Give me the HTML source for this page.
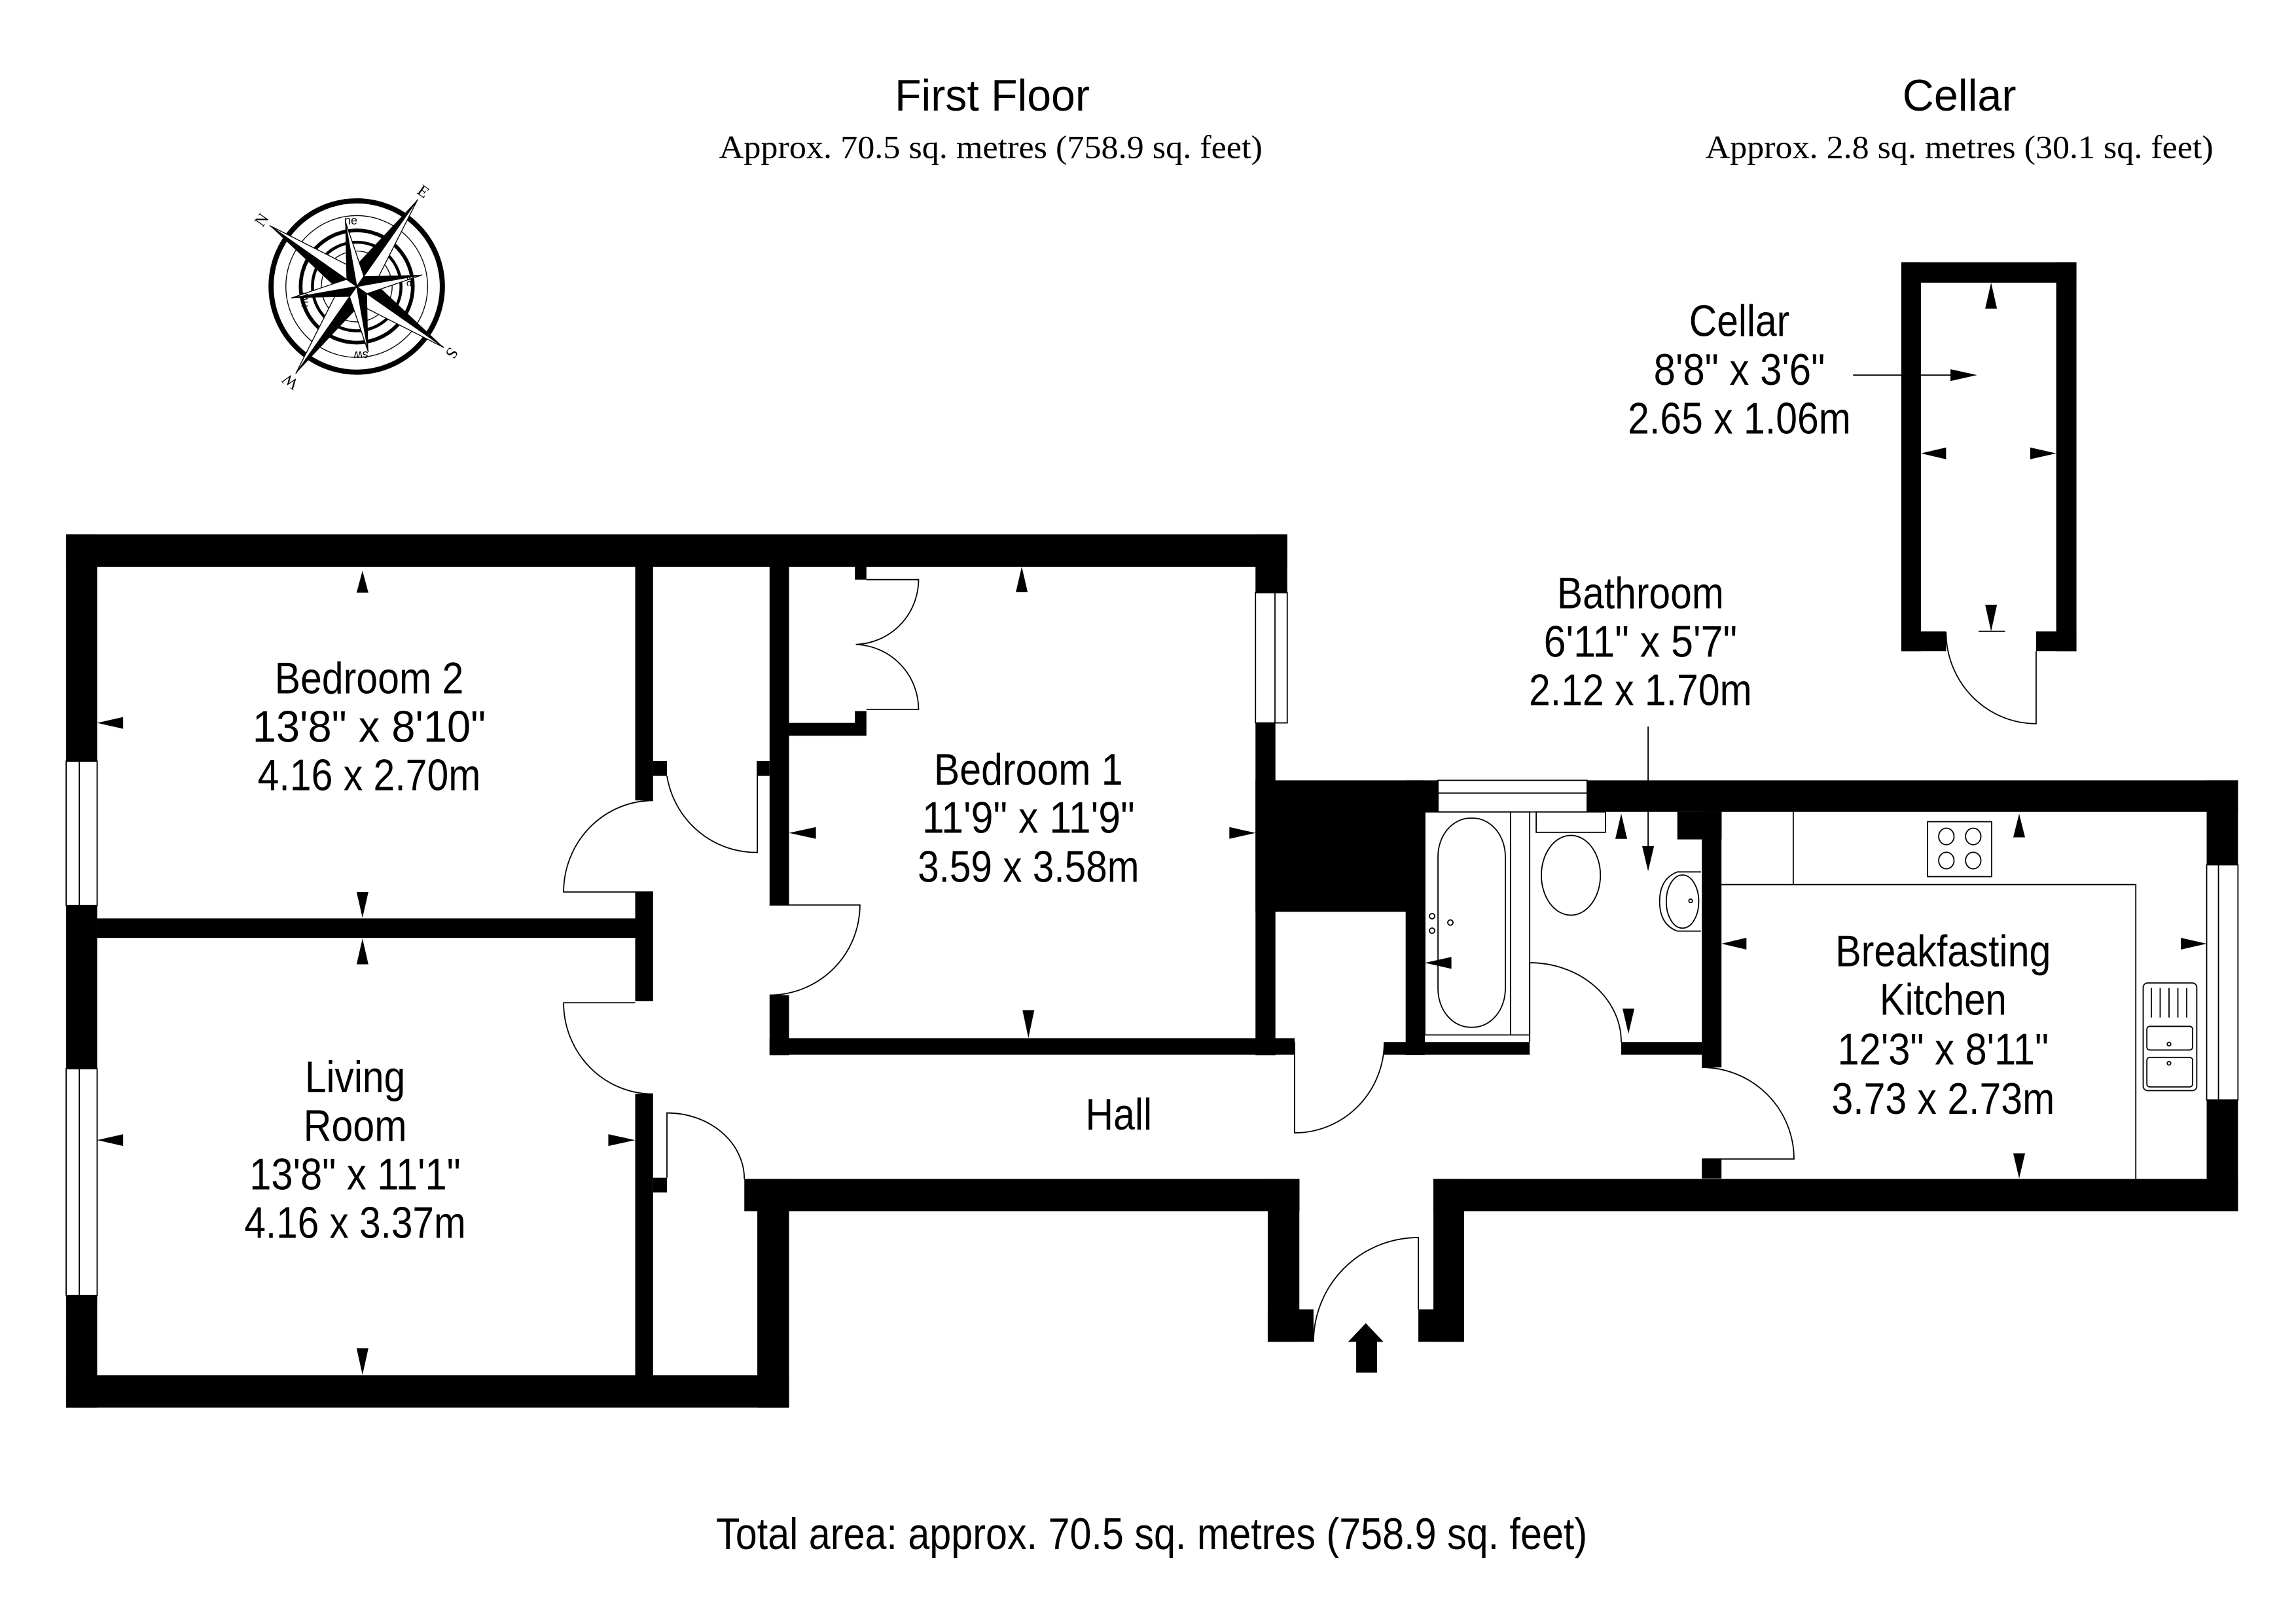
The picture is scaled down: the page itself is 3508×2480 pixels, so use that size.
<!DOCTYPE html>
<html><head><meta charset="utf-8"><style>
html,body{margin:0;padding:0;background:#fff}
svg{display:block}
.t{font-family:"Liberation Sans",sans-serif;font-size:30px;fill:#000;text-anchor:middle}
.s{font-family:"Liberation Serif",serif;font-size:22px;fill:#000;text-anchor:middle}
.l{fill:none;stroke:#000;stroke-width:0.8}
</style></head><body>
<svg width="3508" height="2480" viewBox="0 0 1555 1099" preserveAspectRatio="none" xmlns="http://www.w3.org/2000/svg">
<rect width="1555" height="1099" fill="#fff"/>
<!-- titles -->
<text class="t" x="672" y="75" font-size="31" textLength="132" lengthAdjust="spacingAndGlyphs">First Floor</text>
<text class="s" x="671" y="107" textLength="368" lengthAdjust="spacingAndGlyphs">Approx. 70.5 sq. metres (758.9 sq. feet)</text>
<text class="t" x="1327" y="75" font-size="31" textLength="77" lengthAdjust="spacingAndGlyphs">Cellar</text>
<text class="s" x="1327" y="107" textLength="344" lengthAdjust="spacingAndGlyphs">Approx. 2.8 sq. metres (30.1 sq. feet)</text>
<text class="t" x="780" y="1049" font-size="29" textLength="590" lengthAdjust="spacingAndGlyphs">Total area: approx. 70.5 sq. metres (758.9 sq. feet)</text>

<!-- compass -->
<g transform="translate(241.6,194)">
<circle r="58" fill="none" stroke="#000" stroke-width="3.5"/>
<circle r="48" fill="none" stroke="#000" stroke-width="0.6"/>
<circle r="38" fill="none" stroke="#000" stroke-width="2.5"/>
<circle r="30" fill="none" stroke="#000" stroke-width="2"/>
<circle r="24" fill="none" stroke="#000" stroke-width="0.6"/>
<g transform="rotate(-55)">
<g id="pt"><polygon points="0,0 0,-72 -9,-9" fill="#000"/><polygon points="0,0 0,-72 9,-9" fill="#fff" stroke="#000" stroke-width="0.6"/></g>
<use href="#pt" transform="rotate(90)"/><use href="#pt" transform="rotate(180)"/><use href="#pt" transform="rotate(270)"/>
<g id="sp"><polygon points="0,0 0,-45 -6,-6" fill="#000" transform="rotate(45)"/><polygon points="0,0 0,-45 6,-6" fill="#fff" stroke="#000" stroke-width="0.6" transform="rotate(45)"/></g>
<use href="#sp" transform="rotate(90)"/><use href="#sp" transform="rotate(180)"/><use href="#sp" transform="rotate(270)"/>
<text x="0" y="-75" font-family="Liberation Serif,serif" font-size="11" text-anchor="middle">N</text>
<text x="0" y="-75" font-family="Liberation Serif,serif" font-size="11" text-anchor="middle" transform="rotate(90)">E</text>
<text x="0" y="-75" font-family="Liberation Serif,serif" font-size="11" text-anchor="middle" transform="rotate(180)">S</text>
<text x="0" y="-75" font-family="Liberation Serif,serif" font-size="11" text-anchor="middle" transform="rotate(270)">W</text>
</g>
<text x="-4" y="-42" font-family="Liberation Sans,sans-serif" font-size="8" text-anchor="middle">ne</text>
<text x="36" y="-2" font-family="Liberation Sans,sans-serif" font-size="8" text-anchor="middle" transform="rotate(90 36 -4)">se</text>
<text x="3" y="50" font-family="Liberation Sans,sans-serif" font-size="8" text-anchor="middle" transform="rotate(180 3 47)">sw</text>
<text x="-36" y="12" font-family="Liberation Sans,sans-serif" font-size="8" text-anchor="middle" transform="rotate(270 -36 9)">nw</text>
</g>

<!-- ===== main plan walls ===== -->
<g fill="#000">
<rect x="44.8" y="361.8" width="827" height="22"/>
<rect x="44.8" y="361.8" width="21" height="591.3"/>
<rect x="44.8" y="931.2" width="489.6" height="21.9"/>
<rect x="430.2" y="383" width="12.1" height="159"/>
<rect x="430.2" y="604" width="12.1" height="74"/>
<rect x="430.2" y="740.8" width="12.1" height="191"/>
<rect x="442.3" y="515.4" width="9.4" height="10"/>
<rect x="442.3" y="797.5" width="9.4" height="10"/>
<rect x="65.8" y="621.9" width="365" height="13.2"/>
<rect x="512.9" y="515.4" width="8.3" height="10"/>
<rect x="521.2" y="383" width="13.2" height="229.8"/>
<rect x="521.2" y="673.8" width="13.2" height="40.7"/>
<rect x="534.4" y="489.5" width="52.4" height="8.7"/>
<rect x="579" y="383" width="7.8" height="9.5"/>
<rect x="579" y="481.5" width="7.8" height="9"/>
<rect x="521.2" y="703" width="355.6" height="11.2"/>
<rect x="850.3" y="361.8" width="21.5" height="39.5"/>
<rect x="850.3" y="489.5" width="13.5" height="225"/>
<rect x="850.3" y="528.4" width="114" height="89"/>
<rect x="952" y="528.4" width="13" height="186"/>
<rect x="964" y="528.4" width="551.7" height="21.4"/>
<rect x="1494.5" y="528.4" width="21.2" height="291.6"/>
<rect x="937.5" y="705.6" width="98.5" height="8.6"/>
<rect x="1098" y="705.6" width="54.6" height="8.6"/>
<rect x="1136" y="549.8" width="30" height="18.6"/>
<rect x="1152.6" y="549.8" width="13.3" height="173"/>
<rect x="1152.6" y="784.8" width="13.3" height="13.2"/>
<rect x="504.1" y="798.3" width="376" height="21.9"/>
<rect x="512.9" y="798.3" width="21.5" height="154.8"/>
<rect x="858.6" y="798.3" width="21.4" height="110.3"/>
<rect x="858.6" y="886.6" width="31" height="22"/>
<rect x="970.8" y="798.3" width="544.9" height="21.9"/>
<rect x="970.8" y="798.3" width="20.8" height="110.3"/>
<rect x="960.6" y="886.6" width="31" height="22"/>
</g>
<!-- windows -->
<g fill="#fff" stroke="#000" stroke-width="0.8">
<rect x="44.8" y="515.4" width="21" height="97.8"/>
<rect x="44.8" y="723.7" width="21" height="153.6"/>
<rect x="850.3" y="401.3" width="21.5" height="88.2"/>
<rect x="973.9" y="528.4" width="101" height="21.4"/>
<rect x="1494.5" y="585.6" width="21.2" height="159.2"/>
</g>
<g class="l">
<line x1="53.7" y1="515.4" x2="53.7" y2="613.2"/>
<line x1="53.7" y1="723.7" x2="53.7" y2="877.3"/>
<line x1="863.5" y1="401.3" x2="863.5" y2="489.5"/>
<line x1="973.9" y1="537" x2="1074.9" y2="537"/>
<line x1="1502.5" y1="585.6" x2="1502.5" y2="744.8"/>
</g>

<!-- doors -->
<g class="l">
<path d="M442.3,604 H381.7 A60.6,62 0 0 1 442.3,542.1"/>
<path d="M512.9,515.4 V577.2 A61.2,61.8 0 0 1 451.7,525.4"/>
<path d="M521.2,612.8 H582.4 A61.2,61 0 0 1 521.2,673.8"/>
<path d="M430.2,679 H381.7 A60.6,61.8 0 0 0 442.3,740.8"/>
<path d="M451.7,797.5 V753.6 A52.4,44.7 0 0 1 504.1,798.3"/>
<path d="M586.8,392.5 H622.1 A44,44 0 0 1 579.6,436.4 A44,44 0 0 1 622.1,480.3 H586.8"/>
<path d="M876.8,705.6 V767.1 A60.7,61.5 0 0 0 937.5,705.6"/>
<path d="M1036,705.6 V651.9 A62,53.7 0 0 1 1098,705.6"/>
<path d="M1152.6,784.8 H1215 A62.4,62 0 0 0 1152.6,722.8"/>
<path d="M960.6,886.6 V838 A71,70.6 0 0 0 889.6,908.6"/>
</g>
<!-- entry arrow -->
<polygon points="925,896 913,908.6 918.5,908.6 918.5,929.5 932.6,929.5 932.6,908.6 937,908.6" fill="#000"/>

<!-- bathroom fittings -->
<g class="l">
<rect x="965" y="549.8" width="71" height="151"/>
<line x1="1023" y1="549.8" x2="1023" y2="700.8"/>
<rect x="973.9" y="554" width="45.6" height="141.6" rx="22" ry="26"/>
<circle cx="969.9" cy="620.4" r="1.8"/><circle cx="969.9" cy="630.2" r="1.8"/><circle cx="982.3" cy="624.7" r="1.8"/>
<rect x="1040.4" y="549.8" width="46.9" height="13.8"/>
<ellipse cx="1063.9" cy="592.7" rx="20" ry="27"/>
<path d="M1152,590.4 H1136 Q1124,595 1124,610.5 Q1124,626 1136,630.5 H1152"/>
<ellipse cx="1139.5" cy="610.5" rx="11" ry="18"/>
<circle cx="1145" cy="610" r="1.2"/>
<!-- kitchen -->
<line x1="1214.5" y1="549.8" x2="1214.5" y2="599"/>
<polyline points="1165.9,599 1446.5,599 1446.5,798.3"/>
<rect x="1305.5" y="556.4" width="43.4" height="37.2"/>
<ellipse cx="1318.2" cy="566.4" rx="5.2" ry="5.6"/><ellipse cx="1336.4" cy="566.4" rx="5.2" ry="5.6"/>
<ellipse cx="1318.2" cy="582.7" rx="5.2" ry="5.6"/><ellipse cx="1336.4" cy="582.7" rx="5.2" ry="5.6"/>
<rect x="1451.5" y="665.6" width="36.3" height="72.9" rx="3"/>
<rect x="1454" y="695" width="31" height="16" rx="2"/>
<rect x="1454" y="716" width="31" height="20" rx="2"/>
<line x1="1457" y1="669" x2="1457" y2="689"/><line x1="1463" y1="669" x2="1463" y2="689"/><line x1="1469" y1="669" x2="1469" y2="689"/><line x1="1475" y1="669" x2="1475" y2="689"/><line x1="1481" y1="669" x2="1481" y2="689"/>
<circle cx="1469" cy="707" r="1.2"/><circle cx="1469" cy="720" r="1.2"/>
<!-- leaders -->
<line x1="1116.2" y1="492" x2="1116.2" y2="575"/>
<line x1="1255" y1="254" x2="1325" y2="254"/>
<line x1="1340" y1="427.5" x2="1358" y2="427.5"/>
</g>

<!-- dimension arrows -->
<g fill="#000">
<polygon points="245.5,386.5 241.5,401.3 249.5,401.3"/>
<polygon points="245.5,621.5 241.5,604 249.5,604"/>
<polygon points="65.8,489.5 83.4,485.5 83.4,493.5"/>
<polygon points="245.5,635.5 241.5,653 249.5,653"/>
<polygon points="245.5,931 241.5,913 249.5,913"/>
<polygon points="65.8,772 83.4,768 83.4,776"/>
<polygon points="430.2,772 412,768 412,776"/>
<polygon points="692,383.7 688,401 696,401"/>
<polygon points="696.5,703 692.5,684 700.5,684"/>
<polygon points="534.4,564 552.6,560 552.6,568"/>
<polygon points="850.3,564 832.6,560 832.6,568"/>
<polygon points="1367.5,551 1363.5,567 1371.5,567"/>
<polygon points="1367.5,798 1363.5,781 1371.5,781"/>
<polygon points="1165.9,639 1182.8,635 1182.8,643"/>
<polygon points="1494.5,639 1477,635 1477,643"/>
<polygon points="1098,551 1094,568 1102,568"/>
<polygon points="1102.9,700 1098.9,683 1106.9,683"/>
<polygon points="965,652 983,648 983,656"/>
<polygon points="1116.2,590 1112.2,573 1120.2,573"/>
<!-- cellar -->
<rect x="1287.7" y="177.6" width="118.6" height="13.8"/>
<rect x="1287.7" y="177.6" width="13.3" height="263.4"/>
<rect x="1392.6" y="177.6" width="13.7" height="263.4"/>
<rect x="1287.7" y="427.5" width="30.3" height="13.5"/>
<rect x="1379" y="427.5" width="27.3" height="13.5"/>
<polygon points="1348.5,191.4 1344.5,209 1352.5,209"/>
<polygon points="1348.5,427.5 1344.5,409.5 1352.5,409.5"/>
<polygon points="1301,307 1318,303 1318,311"/>
<polygon points="1392.6,307 1375,303 1375,311"/>
<polygon points="1339,254 1321,250 1321,258"/>
</g>
<path class="l" d="M1379,441 V490 A61,62 0 0 1 1318,428"/>

<!-- room labels -->
<text class="t" x="250" y="469.5" textLength="128" lengthAdjust="spacingAndGlyphs">Bedroom 2</text>
<text class="t" x="250" y="502.2" textLength="158" lengthAdjust="spacingAndGlyphs">13'8" x 8'10"</text>
<text class="t" x="250" y="535" textLength="151" lengthAdjust="spacingAndGlyphs">4.16 x 2.70m</text>

<text class="t" x="696.5" y="531.4" textLength="128" lengthAdjust="spacingAndGlyphs">Bedroom 1</text>
<text class="t" x="696.5" y="564" textLength="144" lengthAdjust="spacingAndGlyphs">11'9" x 11'9"</text>
<text class="t" x="696.5" y="597.2" textLength="150" lengthAdjust="spacingAndGlyphs">3.59 x 3.58m</text>

<text class="t" x="240.5" y="739.6" textLength="68" lengthAdjust="spacingAndGlyphs">Living</text>
<text class="t" x="240.5" y="772.7" textLength="70" lengthAdjust="spacingAndGlyphs">Room</text>
<text class="t" x="240.5" y="805.5" textLength="143" lengthAdjust="spacingAndGlyphs">13'8" x 11'1"</text>
<text class="t" x="240.5" y="838.2" textLength="150" lengthAdjust="spacingAndGlyphs">4.16 x 3.37m</text>

<text class="t" x="757.7" y="764.8" textLength="45" lengthAdjust="spacingAndGlyphs">Hall</text>

<text class="t" x="1316" y="654.2" textLength="146" lengthAdjust="spacingAndGlyphs">Breakfasting</text>
<text class="t" x="1316" y="687" textLength="86" lengthAdjust="spacingAndGlyphs">Kitchen</text>
<text class="t" x="1316" y="720.8" textLength="143" lengthAdjust="spacingAndGlyphs">12'3" x 8'11"</text>
<text class="t" x="1316" y="754.3" textLength="151" lengthAdjust="spacingAndGlyphs">3.73 x 2.73m</text>

<text class="t" x="1111" y="412" textLength="113" lengthAdjust="spacingAndGlyphs">Bathroom</text>
<text class="t" x="1111" y="444.7" textLength="131" lengthAdjust="spacingAndGlyphs">6'11" x 5'7"</text>
<text class="t" x="1111" y="477.4" textLength="151" lengthAdjust="spacingAndGlyphs">2.12 x 1.70m</text>

<text class="t" x="1178" y="227.5" textLength="68" lengthAdjust="spacingAndGlyphs">Cellar</text>
<text class="t" x="1178" y="260.5" textLength="116" lengthAdjust="spacingAndGlyphs">8'8" x 3'6"</text>
<text class="t" x="1178" y="293.5" textLength="151" lengthAdjust="spacingAndGlyphs">2.65 x 1.06m</text>
</svg>
</body></html>
